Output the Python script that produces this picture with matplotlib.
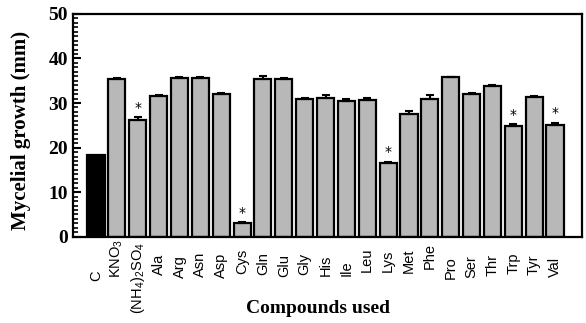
import numpy as np
import matplotlib
matplotlib.use("Agg")
import matplotlib.pyplot as plt
from matplotlib.ticker import MultipleLocator

plt.rcParams['mathtext.fontset'] = 'custom'
plt.rcParams['mathtext.rm'] = 'Liberation Sans'
plt.rcParams['mathtext.it'] = 'Liberation Sans'

categories = ['C', r'KNO$_3$', r'(NH$_4$)$_2$SO$_4$', 'Ala', 'Arg', 'Asn', 'Asp', 'Cys',
              'Gln', 'Glu', 'Gly', 'His', 'Ile', 'Leu', 'Lys', 'Met', 'Phe', 'Pro',
              'Ser', 'Thr', 'Trp', 'Tyr', 'Val']
values = [18.3, 35.3, 26.2, 31.5, 35.6, 35.6, 32.0, 3.0, 35.4, 35.4, 30.8, 31.2,
          30.5, 30.6, 16.5, 27.5, 30.8, 35.9, 32.0, 33.8, 24.8, 31.4, 25.0]
errors = [0.0, 0.4, 0.6, 0.3, 0.2, 0.3, 0.3, 0.2, 0.6, 0.3, 0.4, 0.5,
          0.3, 0.5, 0.3, 0.7, 1.0, 0.0, 0.3, 0.3, 0.4, 0.2, 0.5]
significant = [False, False, True, False, False, False, False, True, False, False,
               False, False, False, False, True, False, False, False, False, False,
               True, False, True]

# layout only: vertical centre of each rotated tick label, in pixels below the axis
label_center_px = [39, 22, 41, 28, 30, 28, 29, 25, 27, 29, 27, 29, 31, 23, 24, 24,
                   19, 31, 30, 28, 26, 28, 30]

fig = plt.figure(figsize=(5.86, 3.23), dpi=100)
ax = fig.add_axes([0.124, 0.267, 0.869, 0.690])

x = np.arange(len(categories))
colors = ['black'] + ['#b8b8b8'] * (len(categories) - 1)
ax.bar(x, values, width=0.82, color=colors, edgecolor='black', linewidth=1.6, zorder=2)
errx = x[1:]
ax.errorbar(errx, values[1:], yerr=[np.zeros(len(errx)), errors[1:]], fmt='none',
            ecolor='black', elinewidth=1.5, capsize=3, capthick=1.5, zorder=3)

for xi, sig, v, e in zip(x, significant, values, errors):
    if sig:
        ax.text(xi, v + e + 0.6, '*', ha='center', va='bottom', fontsize=10,
                family='DejaVu Sans', color='black')

ax.set_xlim(-1.12, len(categories) - 1 + 1.29)
ax.set_ylim(0, 50)
ax.yaxis.set_major_locator(MultipleLocator(10))
ax.yaxis.set_minor_locator(MultipleLocator(1))
ax.tick_params(axis='y', which='major', direction='in', length=6, width=1.5)
ax.tick_params(axis='y', which='minor', direction='in', length=3.5, width=1.2)
ax.tick_params(axis='x', which='both', length=0)
for lab in ax.get_yticklabels():
    lab.set_fontfamily('Liberation Serif')
    lab.set_fontweight('bold')
    lab.set_fontsize(14)

ax.set_xticks(x)
ax.set_xticklabels(categories, rotation=90, fontsize=10.5, family='Liberation Sans',
                   va='center')
for tick, c in zip(ax.xaxis.get_major_ticks(), label_center_px):
    tick.set_pad(c * 72.0 / 100.0)

for s in ax.spines.values():
    s.set_linewidth(1.6)

ax.set_ylabel('Mycelial growth (mm)', family='Liberation Serif', fontweight='bold',
              fontsize=15)
ax.yaxis.set_label_coords(-0.082, 0.479)
ax.set_xlabel('Compounds used', family='Liberation Serif', fontweight='bold',
              fontsize=14)
ax.xaxis.set_label_coords(0.481, -0.285)

fig.savefig('out.png', dpi=100, facecolor='white')
